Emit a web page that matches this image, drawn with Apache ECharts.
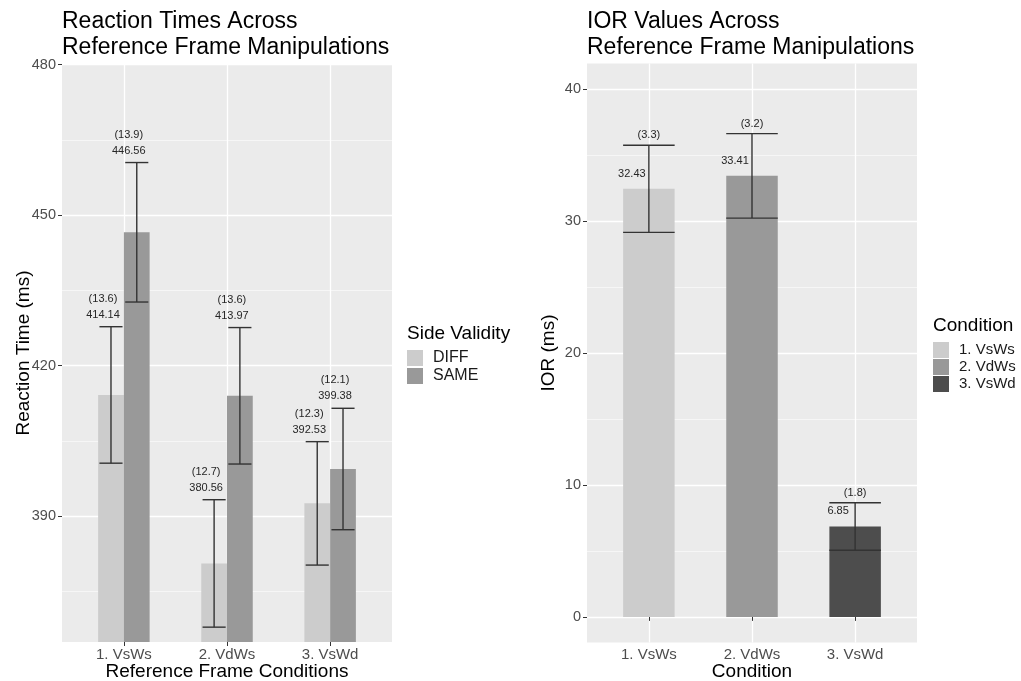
<!DOCTYPE html>
<html>
<head>
<meta charset="utf-8">
<script src="https://cdn.jsdelivr.net/npm/echarts@6/dist/echarts.min.js"></script>
<style>
  html, body { margin: 0; background: #fff; }
  #chart { width: 1021px; height: 681px; }
</style>
</head>
<body>
<div id="chart"></div>
<script>
// data
const conditions = ["1. VsWs", "2. VdWs", "3. VsWd"];
const catPos = [1, 2, 3];
const diffRT = [414.14, 380.56, 392.53];
const diffSE = [13.6, 12.7, 12.3];
const sameRT = [446.56, 413.97, 399.38];
const sameSE = [13.9, 13.6, 12.1];
const iorValues = [32.43, 33.41, 6.85];
const iorSE = [3.3, 3.2, 1.8];
const rtTicks = [390, 420, 450, 480];
const rtMinor = [375, 405, 435, 465];
const iorTicks = [0, 10, 20, 30, 40];
const iorMinor = [5, 15, 25, 35];

const FONT = "Liberation Sans, Arial, sans-serif";
const greyFill = { DIFF: "#CCCCCC", SAME: "#999999" };
const condFill = ["#CCCCCC", "#999999", "#4D4D4D"];

const chart = echarts.init(document.getElementById("chart"));

function xAxisFor(gridIndex, name) {
  return {
    gridIndex: gridIndex,
    type: "value",
    min: 0.4,
    max: 3.6,
    name: name,
    nameLocation: "middle",
    nameGap: 20,
    nameMoveOverlap: false,
    nameTextStyle: { fontSize: 19, color: "#000" },
    axisLine: { show: false },
    axisTick: { show: true, customValues: catPos, length: 4, lineStyle: { color: "#333" } },
    axisLabel: {
      customValues: catPos,
      formatter: (v) => conditions[Math.round(v) - 1],
      color: "#4D4D4D",
      fontSize: 15,
      margin: 5,
    },
    splitLine: { show: true, lineStyle: { color: "#fff", width: 1.3 } },
  };
}

function yAxisFor(gridIndex, min, max, ticks, name) {
  return {
    gridIndex: gridIndex,
    type: "value",
    min: min,
    max: max,
    name: name,
    nameLocation: "middle",
    nameGap: 29,
    nameMoveOverlap: false,
    nameTextStyle: { fontSize: 19, color: "#000" },
    axisLine: { show: false },
    axisTick: { show: true, customValues: ticks, length: 4, lineStyle: { color: "#333" } },
    axisLabel: { customValues: ticks, color: "#4D4D4D", fontSize: 14.5, margin: 6 },
    splitLine: { show: true, lineStyle: { color: "#fff", width: 1.3 } },
  };
}

function minorAxisFor(gridIndex, min, max, ticks) {
  return {
    gridIndex: gridIndex,
    type: "value",
    min: min,
    max: max,
    axisLine: { show: false },
    axisTick: { show: false, customValues: ticks },
    axisLabel: { show: false, customValues: ticks },
    splitLine: { show: true, lineStyle: { color: "#F6F6F6", width: 1 } },
  };
}

// error bars + labels, left panel (dodged)
function rtErrorBar(dodge) {
  return function (params, api) {
    const x = api.value(0);
    const mean = api.value(1);
    const se = api.value(2);
    const band = api.size([1, 0])[0];
    const top = api.coord([x, mean + se]);
    const bot = api.coord([x, mean - se]);
    const cx = top[0] + dodge * band;
    const hw = band * 0.112;
    const ls = { stroke: "#333", lineWidth: 1.4 };
    return {
      type: "group",
      children: [
        { type: "line", shape: { x1: cx, y1: top[1], x2: cx, y2: bot[1] }, style: ls },
        { type: "line", shape: { x1: cx - hw, y1: top[1], x2: cx + hw, y2: top[1] }, style: ls },
        { type: "line", shape: { x1: cx - hw, y1: bot[1], x2: cx + hw, y2: bot[1] }, style: ls },
        {
          type: "text",
          style: {
            text: "(" + se.toFixed(1) + ")\n" + mean.toFixed(2),
            x: cx - 8,
            y: top[1] - 4,
            align: "center",
            verticalAlign: "bottom",
            fontSize: 11,
            lineHeight: 16,
            fontFamily: FONT,
            fill: "#262626",
          },
        },
      ],
    };
  };
}

// error bars + labels, right panel
function iorErrorBar(params, api) {
  const x = api.value(0);
  const mean = api.value(1);
  const se = api.value(2);
  const band = api.size([1, 0])[0];
  const top = api.coord([x, mean + se]);
  const bot = api.coord([x, mean - se]);
  const bar = api.coord([x, mean]);
  const cx = top[0];
  const hw = band * 0.25;
  const ls = { stroke: "#333", lineWidth: 1.4 };
  return {
    type: "group",
    children: [
      { type: "line", shape: { x1: cx, y1: top[1], x2: cx, y2: bot[1] }, style: ls },
      { type: "line", shape: { x1: cx - hw, y1: top[1], x2: cx + hw, y2: top[1] }, style: ls },
      { type: "line", shape: { x1: cx - hw, y1: bot[1], x2: cx + hw, y2: bot[1] }, style: ls },
      {
        type: "text",
        style: {
          text: "(" + se.toFixed(1) + ")",
          x: cx, y: top[1] - 10,
          align: "center", verticalAlign: "middle",
          fontSize: 11, fontFamily: FONT, fill: "#262626",
        },
      },
      {
        type: "text",
        style: {
          text: mean.toFixed(2),
          x: cx - 17, y: bar[1] - 15,
          align: "center", verticalAlign: "middle",
          fontSize: 11, fontFamily: FONT, fill: "#262626",
        },
      },
    ],
  };
}

const series = [
  {
    name: "DIFF", type: "bar", xAxisIndex: 0, yAxisIndex: 0,
    data: catPos.map((x, i) => [x, diffRT[i]]),
    barWidth: 25.75, barGap: "0%", clip: true,
    itemStyle: { color: greyFill.DIFF },
  },
  {
    name: "SAME", type: "bar", xAxisIndex: 0, yAxisIndex: 0,
    data: catPos.map((x, i) => [x, sameRT[i]]),
    barWidth: 25.75, barGap: "0%", clip: true,
    itemStyle: { color: greyFill.SAME },
  },
  {
    type: "custom", xAxisIndex: 0, yAxisIndex: 0, z: 5, silent: true,
    renderItem: rtErrorBar(-0.125),
    data: catPos.map((x, i) => [x, diffRT[i], diffSE[i]]),
  },
  {
    type: "custom", xAxisIndex: 0, yAxisIndex: 0, z: 5, silent: true,
    renderItem: rtErrorBar(0.125),
    data: catPos.map((x, i) => [x, sameRT[i], sameSE[i]]),
  },
];

conditions.forEach((c, i) => {
  series.push({
    name: c, type: "bar", xAxisIndex: 1, yAxisIndex: 2,
    data: [[catPos[i], iorValues[i]]],
    barWidth: 51.5, barGap: "-100%", clip: true,
    itemStyle: { color: condFill[i] },
  });
});

series.push({
  type: "custom", xAxisIndex: 1, yAxisIndex: 2, z: 5, silent: true,
  renderItem: iorErrorBar,
  data: catPos.map((x, i) => [x, iorValues[i], iorSE[i]]),
});

chart.setOption({
  animation: false,
  backgroundColor: "#fff",
  textStyle: { fontFamily: FONT },
  title: [
    {
      text: "Reaction Times Across\nReference Frame Manipulations",
      left: 57, top: 4,
      textStyle: { fontSize: 23, fontWeight: "normal", color: "#000", lineHeight: 26 },
    },
    {
      text: "IOR Values Across\nReference Frame Manipulations",
      left: 582, top: 4,
      textStyle: { fontSize: 23, fontWeight: "normal", color: "#000", lineHeight: 26 },
    },
    {
      text: "Side Validity", left: 402, top: 319,
      textStyle: { fontSize: 19, fontWeight: "normal", color: "#000" },
    },
    {
      text: "Condition", left: 928, top: 311,
      textStyle: { fontSize: 19, fontWeight: "normal", color: "#000" },
    },
  ],
  legend: [
    {
      data: ["DIFF", "SAME"], orient: "vertical", left: 402, top: 345,
      icon: "rect", itemWidth: 16, itemHeight: 16, itemGap: 2,
      textStyle: { fontSize: 16, color: "#1A1A1A", padding: [0, 0, 0, 5] },
    },
    {
      data: conditions, orient: "vertical", left: 928, top: 337,
      icon: "rect", itemWidth: 16, itemHeight: 16, itemGap: 1,
      textStyle: { fontSize: 15, color: "#1A1A1A", padding: [0, 0, 0, 5] },
    },
  ],
  grid: [
    { left: 62, top: 64, width: 330, height: 578, show: true, backgroundColor: "#EBEBEB", borderWidth: 0, containLabel: false, outerBoundsMode: "none" },
    { left: 587, top: 63.5, width: 330, height: 579, show: true, backgroundColor: "#EBEBEB", borderWidth: 0, containLabel: false, outerBoundsMode: "none" },
  ],
  xAxis: [xAxisFor(0, "Reference Frame Conditions"), xAxisFor(1, "Condition")],
  yAxis: [
    yAxisFor(0, 364.9, 480.1, rtTicks, "Reaction Time (ms)"),
    minorAxisFor(0, 364.9, 480.1, rtMinor),
    yAxisFor(1, -1.94, 41.92, iorTicks, "IOR (ms)"),
    minorAxisFor(1, -1.94, 41.92, iorMinor),
  ],
  series: series,
});
</script>
</body>
</html>
